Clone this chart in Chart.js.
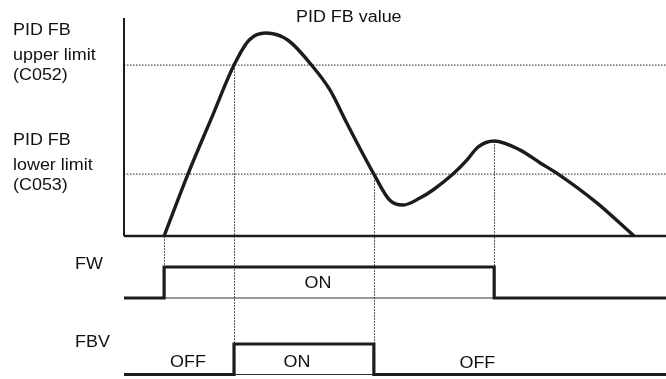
<!DOCTYPE html>
<html>
<head>
<meta charset="utf-8">
<script src="https://cdn.jsdelivr.net/npm/chart.js@4/dist/chart.umd.min.js"></script>
<style>
body { margin: 0; background: #fff; }
canvas { display: block; }
</style>
</head>
<body>
<canvas id="myChart" width="666" height="379"></canvas>
<script>
// time axis (s), 0 = origin of the feedback plot
const fbTime  = [0.74, 1.18, 1.63, 2.03, 2.31, 2.62, 3.02, 3.46, 3.80, 4.11, 4.61, 4.90, 5.15, 5.46, 5.70, 6.07, 6.33, 6.53, 6.83, 7.31, 7.68, 8.01, 8.73, 9.41];
const fbValue = [0,    28.4, 55,   78.4, 89.9, 93.1, 89.9, 78.4, 67.0, 51.8, 28.4, 16.5, 14.2, 17.4, 21.1, 28.4, 34.9, 40.8, 43.6, 39.4, 33.5, 28.4, 15.1, 0];
const upperLimit = 78.4; // C052
const lowerLimit = 28.4; // C053

const fwTime   = [0, 0.74, 6.83, 10];
const fwState  = [0, 1, 0, 0];
const fbvTime  = [0, 2.03, 4.61, 10];
const fbvState = [0, 1, 0, 0];

// dotted event markers: time, start value on the FB axis, signal they drop to
const markerTime = [0.74, 2.03, 4.61, 6.83];
const markerTop  = [0, upperLimit, lowerLimit, 43.6];
const markerAxis = ['yFW', 'yFBV', 'yFBV', 'yFW'];

const stateText  = ['ON', 'OFF', 'ON', 'OFF'];
const stateTime  = [3.58, 1.18, 3.19, 6.52];
const stateAxis  = ['yFW', 'yFBV', 'yFBV', 'yFBV'];
const stateLevel = [0.32, 0.23, 0.23, 0.2];

const sideLabels = ['PID FB', 'upper limit', '(C052)', 'PID FB', 'lower limit', '(C053)', 'FW', 'FBV'];
const sideX = [13, 13, 13, 13, 13, 13, 75, 75];
const sideY = [35, 60, 80, 145, 170, 190, 269, 346.5];

function pts(xs, ys) {
    return xs.map(function (x, i) { return { x: x, y: ys[i] }; });
}

const ink = '#1f1b1c';
const FONT = '16px "Liberation Sans", Arial, sans-serif';

function stretchText(ctx, text, x, y, align) {
    ctx.save();
    const w = ctx.measureText(text).width * 1.12;
    ctx.translate(align === 'center' ? x - w / 2 : x, y);
    ctx.scale(1.12, 1);
    ctx.fillText(text, 0, 0);
    ctx.restore();
}

const timingPlugin = {
    id: 'timing',
    beforeDatasetsDraw: function (chart) {
        const ctx = chart.ctx;
        const sx = chart.scales.x;
        ctx.save();
        ctx.strokeStyle = '#444';
        ctx.lineWidth = 0.9;
        ctx.setLineDash([2, 1]);
        for (var i = 0; i < markerTime.length; i++) {
            const px = Math.round(sx.getPixelForValue(markerTime[i])) + 0.5;
            ctx.beginPath();
            ctx.moveTo(px, chart.scales.y.getPixelForValue(markerTop[i]));
            ctx.lineTo(px, chart.scales[markerAxis[i]].getPixelForValue(1));
            ctx.stroke();
        }
        ctx.restore();
    },
    afterDraw: function (chart) {
        const ctx = chart.ctx;
        const sx = chart.scales.x;
        ctx.save();
        ctx.font = FONT;
        ctx.fillStyle = '#111';
        ctx.textBaseline = 'alphabetic';
        for (var i = 0; i < sideLabels.length; i++) {
            stretchText(ctx, sideLabels[i], sideX[i], sideY[i], 'left');
        }
        stretchText(ctx, 'PID FB value', 296, 22, 'left');
        for (var j = 0; j < stateText.length; j++) {
            stretchText(ctx, stateText[j], sx.getPixelForValue(stateTime[j]),
                chart.scales[stateAxis[j]].getPixelForValue(stateLevel[j]), 'center');
        }
        ctx.restore();
    }
};

window.onload = function () {
    const ctx = document.getElementById('myChart');
    const myChart = new Chart(ctx, {
        type: 'line',
        data: {
            datasets: [{
                label: 'PID FB value',
                data: pts(fbTime, fbValue),
                borderColor: ink,
                borderWidth: 3.4,
                cubicInterpolationMode: 'monotone',
                yAxisID: 'y'
            }, {
                label: 'upper limit',
                data: pts([0, 10], [upperLimit, upperLimit]),
                borderColor: '#222',
                borderWidth: 1,
                borderDash: [1.5, 1.5],
                yAxisID: 'y'
            }, {
                label: 'lower limit',
                data: pts([0, 10], [lowerLimit, lowerLimit]),
                borderColor: '#222',
                borderWidth: 1,
                borderDash: [1.5, 1.5],
                yAxisID: 'y'
            }, {
                label: 'axis',
                data: pts([0, 0], [0, 100]),
                borderColor: ink,
                borderWidth: 2,
                yAxisID: 'y'
            }, {
                label: 'baseline',
                data: pts([0, 10], [0, 0]),
                borderColor: ink,
                borderWidth: 2.5,
                yAxisID: 'y'
            }, {
                label: 'FW',
                data: pts(fwTime, fwState),
                stepped: true,
                borderColor: ink,
                borderWidth: 3.2,
                yAxisID: 'yFW'
            }, {
                label: 'FW low',
                data: pts([fwTime[1], fwTime[2]], [0, 0]),
                borderColor: '#333',
                borderWidth: 1.2,
                yAxisID: 'yFW'
            }, {
                label: 'FBV',
                data: pts(fbvTime, fbvState),
                stepped: true,
                borderColor: ink,
                borderWidth: 3.2,
                yAxisID: 'yFBV'
            }, {
                label: 'FBV low',
                data: pts([fbvTime[1], fbvTime[2]], [0, 0]),
                borderColor: '#333',
                borderWidth: 1.2,
                yAxisID: 'yFBV'
            }]
        },
        options: {
            responsive: false,
            animation: false,
            events: [],
            layout: { padding: 0 },
            elements: { point: { radius: 0 }, line: { borderCapStyle: 'butt', fill: false } },
            scales: {
                x: { type: 'linear', min: -2.2878, max: 10, display: false },
                y: { min: -65.6, max: 108.26, display: false },
                yFW: { min: -2.613, max: 9.613, display: false },
                yFBV: { min: -0.1475, max: 12.279, display: false }
            },
            plugins: {
                legend: { display: false },
                tooltip: { enabled: false }
            }
        },
        plugins: [timingPlugin]
    });
};
</script>
</body>
</html>
